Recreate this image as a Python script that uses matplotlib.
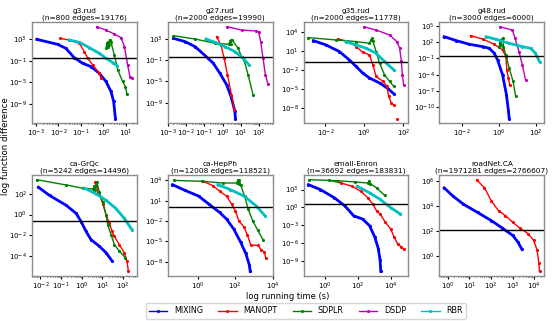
import numpy as np
import matplotlib.pyplot as plt

# values as (log10 running time, log10 function difference)
g3_mixing = [(-2.96, 2.94), (-2.04, 2.02), (-1.67, 1.28), (-1.3, -0.44), (-0.93, -1.48), (-0.56, -2.09),
             (-0.19, -3.32), (0.11, -4.85), (0.33, -6.69), (0.45, -8.53), (0.53, -11.7)]
g3_manopt = [(-1.92, 3.12), (-1.52, 2.82), (-1.07, 2.2), (-0.85, 0.67), (-0.7, -0.56), (-0.48, -1.79),
             (-0.19, -3.32), (-0.11, -4.2)]
g3_sdplr = [(0.12, 1.4), (0.15, 2.2), (0.18, 1.5), (0.21, 2.5), (0.24, 1.9), (0.27, 2.9), (0.33, 2.5),
            (0.48, 0.06), (0.63, -2.7), (0.85, -4.85), (0.97, -5.8), (1.04, -7.2)]
g3_dsdp = [(-0.3, 5.27), (0.11, 4.66), (0.48, 3.92), (0.78, 3.25), (0.93, 1.59), (1.07, -1.79),
           (1.18, -4.1), (1.27, -4.2)]
g3_rbr = [(-1.52, 2.82), (-1.07, 2.39), (-0.63, 1.4), (-0.19, 0.36), (0.11, -0.56), (0.41, -1.36), (0.59, -1.9)]

g27_mixing = [(-2.69, 3.12), (-2.05, 2.5), (-1.51, 1.56), (-0.96, -0.12), (-0.51, -1.56), (-0.15, -3.44),
              (0.22, -5.6), (0.49, -8.1), (0.67, -10.6), (0.71, -12.0)]
g27_manopt = [(-0.33, 3.44), (-0.09, 1.88), (0.09, -0.62), (0.27, -3.75), (0.49, -7.5), (0.64, -10.3)]
g27_sdplr = [(-2.69, 3.62), (-1.51, 3.0), (-0.42, 2.19), (0.36, 2.0), (0.4, 2.6), (0.45, 2.1), (0.49, 2.9),
             (0.53, 2.8), (0.85, 1.25), (1.04, -0.31), (1.18, -0.94), (1.4, -3.75), (1.67, -7.5)]
g27_dsdp = [(0.25, 5.31), (1.04, 4.69), (1.85, 4.5), (1.98, 4.25), (2.09, 2.5), (2.22, -0.62),
            (2.35, -3.75), (2.49, -5.5)]
g27_rbr = [(-0.91, 3.0), (-0.42, 2.38), (0.13, 1.56), (0.67, 0.63), (1.13, -0.62), (1.45, -1.88)]

g35_mixing = [(-2.62, 2.68), (-1.98, 2.0), (-1.29, 0.95), (-0.78, -0.37), (-0.43, -1.42), (-0.09, -2.47),
              (0.26, -3.26), (0.78, -4.05), (1.21, -4.95), (1.5, -5.74)]
g35_manopt = [(-1.38, 2.95), (-0.78, 2.53), (-0.43, 1.74), (-0.09, 0.84), (0.26, 0.42), (0.43, -1.16),
              (0.6, -3.0), (0.95, -3.79), (1.16, -4.58), (1.24, -6.16), (1.38, -7.2), (1.5, -7.58),
              (np.nan, np.nan), (1.69, -9.7)]
g35_sdplr = [(-2.88, 3.16), (-1.47, 2.79), (-0.43, 2.53), (0.26, 2.26), (0.34, 2.79), (0.4, 3.05),
             (0.43, 2.63), (0.6, 0.95), (0.78, -0.89), (1.03, -2.74), (1.29, -3.79), (1.5, -4.58)]
g35_dsdp = [(-0.03, 4.89), (0.6, 4.37), (1.29, 3.58), (1.67, 2.53), (1.81, 1.47), (1.9, -0.63),
            (1.95, -2.74), (2.02, -4.42)]
g35_rbr = [(-0.95, 2.53), (-0.43, 2.0), (0.09, 1.47), (0.6, 0.68), (1.03, -0.63), (1.5, -1.95)]

g48_mixing = [(-2.98, 2.99), (-2.32, 2.26), (-1.61, 1.59), (-0.89, 1.16), (-0.54, 0.85), (-0.27, -0.06),
              (-0.09, -1.28), (0.18, -4.02), (0.39, -7.68), (0.5, -10.7), (0.54, -12.07)]
g48_manopt = [(-1.55, 3.17), (-0.89, 2.56), (-0.27, 1.59), (0.18, 0.55), (0.36, -0.67), (0.41, -3.11),
              (0.5, -4.63), (0.57, -5.98)]
g48_sdplr = [(0.0, 1.16), (0.04, 2.38), (0.09, 1.46), (0.14, 2.56), (0.21, 2.68), (0.23, 1.16),
             (0.36, -0.37), (0.54, -2.8), (0.75, -5.24), (0.89, -7.99)]
g48_dsdp = [(0.04, 4.82), (0.71, 4.21), (0.86, 2.68), (1.07, 0.24), (1.25, -2.2), (1.43, -5.06)]
g48_rbr = [(-0.71, 2.99), (-0.18, 2.5), (0.54, 1.77), (1.25, 1.16), (1.7, 0.85), (1.96, -0.06), (2.18, -1.59)]

grqc_mixing = [(-2.1, 2.63), (-1.56, 1.84), (-0.76, 0.9), (-0.27, 0.11), (-0.03, -0.68), (0.21, -1.63),
               (0.45, -2.42), (0.85, -3.05), (1.18, -3.68), (1.47, -4.47)]
grqc_manopt = [(0.66, 3.17), (0.69, 2.79), (0.81, 2.16), (1.02, 1.05), (1.18, -0.05), (1.34, -0.84),
               (1.47, -1.63), (1.58, -2.1), (1.82, -2.89), (2.06, -3.68), (2.19, -4.47), (2.26, -5.48)]
grqc_sdplr = [(-2.18, 3.36), (-0.76, 2.85), (0.05, 2.54), (0.56, 2.47), (0.61, 2.8), (0.66, 2.4),
              (0.73, 3.17), (0.85, 2.16), (1.02, 1.21), (1.18, -0.05), (1.26, -1.0), (1.42, -1.94),
              (1.58, -2.89), (1.82, -3.52), (2.11, -4.15)]
grqc_rbr = [(0.13, 2.54), (0.69, 2.0), (1.18, 1.37), (1.66, 0.58), (2.06, -0.37), (2.44, -1.47)]

hepph_mixing = [(-1.36, 3.37), (-0.71, 2.55), (0.04, 1.68), (0.6, 0.47), (1.16, -0.73), (1.53, -1.7),
                (1.91, -3.15), (2.28, -5.08), (2.56, -6.77), (2.75, -8.46), (2.8, -9.43)]
hepph_manopt = [(0.28, 3.86), (0.79, 3.23), (1.16, 2.41), (1.53, 1.68), (1.81, 0.47), (2.0, -0.49),
                (2.19, -1.94), (2.47, -2.91), (2.65, -4.12), (2.84, -5.57), (3.21, -5.57), (3.4, -6.29),
                (3.55, -6.53), (3.63, -7.5)]
hepph_sdplr = [(-1.27, 4.0), (0.22, 3.86), (1.35, 3.61), (2.09, 3.61), (2.13, 4.1), (2.18, 3.5),
               (2.22, 4.0), (2.28, 3.37), (2.5, 1.68), (2.69, -0.25), (2.93, -1.94), (3.21, -3.39),
               (3.5, -4.84)]
hepph_rbr = [(1.07, 3.37), (1.72, 2.65), (2.47, 1.68), (3.12, 0.23), (3.59, -1.22)]

enron_mixing = [(-1.0, 3.83), (-0.28, 3.0), (0.57, 1.62), (1.21, 0.24), (1.74, -1.42), (2.28, -1.97),
                (2.7, -3.08), (3.02, -5.01), (3.23, -6.94), (3.34, -8.88), (3.38, -10.8)]
enron_manopt = [(0.26, 4.55), (1.0, 4.1), (1.64, 3.55), (2.17, 2.72), (2.6, 1.62), (2.91, 0.51),
                (3.13, -0.59), (3.34, -1.14), (3.66, -2.52), (3.98, -3.63), (4.19, -5.01), (4.4, -6.12),
                (4.62, -6.67), (4.77, -7.06)]
enron_sdplr = [(-0.96, 4.66), (0.79, 4.49), (1.85, 4.27), (2.6, 4.1), (2.66, 4.44), (2.74, 4.0),
               (3.13, 3.28), (3.62, 2.0)]
enron_rbr = [(1.96, 3.55), (2.7, 2.45), (3.34, 1.34), (3.98, -0.04), (4.57, -1.14)]

road_mixing = [(-0.16, 5.47), (0.24, 4.82), (0.73, 4.16), (1.38, 3.5), (2.02, 2.84), (2.51, 2.26),
               (3.0, 1.66), (3.24, 1.13), (3.43, 0.53)]
road_manopt = [(1.34, 6.13), (1.7, 5.47), (2.02, 4.42), (2.35, 3.63), (2.67, 3.24), (3.0, 2.71),
               (3.32, 2.26), (3.72, 1.79), (3.97, 1.26), (4.13, 0.47), (4.21, -0.58), (4.24, -1.24)]

titles = ['g3.rud\n(n=800 edges=19176)', 'g27.rud\n(n=2000 edges=19990)',
          'g35.rud\n(n=2000 edges=11778)', 'g48.rud\n(n=3000 edges=6000)',
          'ca-GrQc\n(n=5242 edges=14496)', 'ca-HepPh\n(n=12008 edges=118521)',
          'email-Enron\n(n=36692 edges=183831)', 'roadNet.CA\n(n=1971281 edges=2766607)']
# log10 of the black reference line in each panel
thresholds = [-0.56, -0.31, -0.79, -0.49, -0.62, 0.04, 0.51, 2.1]
# labelled decades on each panel's axes
xtick_exps = [[-3, -2, -1, 0, 1], [-3, -2, -1, 0, 1, 2], [-2, 0, 2], [-2, 0, 2],
              [-2, -1, 0, 1, 2], [0, 2, 4], [0, 2, 4], [0, 1, 2, 3, 4]]
ytick_exps = [[3, -1, -5, -9], [3, -1, -5, -9], [4, 1, -2, -5, -8], [5, 2, -1, -4, -7, -10],
              [2, 0, -2, -4], [4, 1, -2, -5, -8], [3, 0, -3, -6, -9], [6, 4, 2, 0]]

methods = ['MIXING', 'MANOPT', 'SDPLR', 'DSDP', 'RBR']
colors = ['b', 'r', 'g', 'm', 'c']

panels = [
    [g3_mixing, g3_manopt, g3_sdplr, g3_dsdp, g3_rbr],
    [g27_mixing, g27_manopt, g27_sdplr, g27_dsdp, g27_rbr],
    [g35_mixing, g35_manopt, g35_sdplr, g35_dsdp, g35_rbr],
    [g48_mixing, g48_manopt, g48_sdplr, g48_dsdp, g48_rbr],
    [grqc_mixing, grqc_manopt, grqc_sdplr, None, grqc_rbr],
    [hepph_mixing, hepph_manopt, hepph_sdplr, None, hepph_rbr],
    [enron_mixing, enron_manopt, enron_sdplr, None, enron_rbr],
    [road_mixing, road_manopt, None, None, None],
]

plt.rcParams['xtick.labelsize'] = 5
plt.rcParams['ytick.labelsize'] = 5

fig, axes = plt.subplots(2, 4, figsize=(5.52, 3.21), dpi=100)
fig.subplots_adjust(left=0.058, right=0.986, bottom=0.14, top=0.931, wspace=0.295, hspace=0.515)

lines = {}
for i, ax in enumerate(axes.flat):
    for name, col, pts in zip(methods, colors, panels[i]):
        if pts is None:
            continue
        pts = np.array(pts)
        lw = 2.0 if col in ('b', 'c') else 1.0
        l, = ax.plot(10 ** pts[:, 0], 10 ** pts[:, 1], '.-', color=col, lw=lw, ms=2.5)
        lines[name] = l
    ax.axhline(10 ** thresholds[i], color='k', lw=1)
    ax.set_xscale('log')
    ax.set_yscale('log')
    ax.set_xticks([10.0 ** e for e in xtick_exps[i]])
    ax.set_yticks([10.0 ** e for e in ytick_exps[i]])
    ax.set_title(titles[i], fontsize=5.3, pad=2, linespacing=1.1)
    ax.tick_params(length=2, pad=1.5)
    ax.tick_params(which='minor', length=1)
    for s in ax.spines.values():
        s.set_color('0.55')
        s.set_linewidth(1)

fig.text(0.0105, 0.545, 'log function difference', rotation=90, va='center', ha='center', fontsize=6.2)
fig.text(0.522, 0.075, 'log running time (s)', ha='center', va='center', fontsize=6)

handles = [lines[m] for m in methods]
leg = fig.legend(handles, methods, loc='lower center', ncol=5, bbox_to_anchor=(0.554, -0.005),
                 fontsize=5.8, handlelength=2.3, columnspacing=1.9, frameon=True)
for h in leg.legend_handles:
    h.set_linewidth(1)

fig.savefig('out.png', dpi=100)
